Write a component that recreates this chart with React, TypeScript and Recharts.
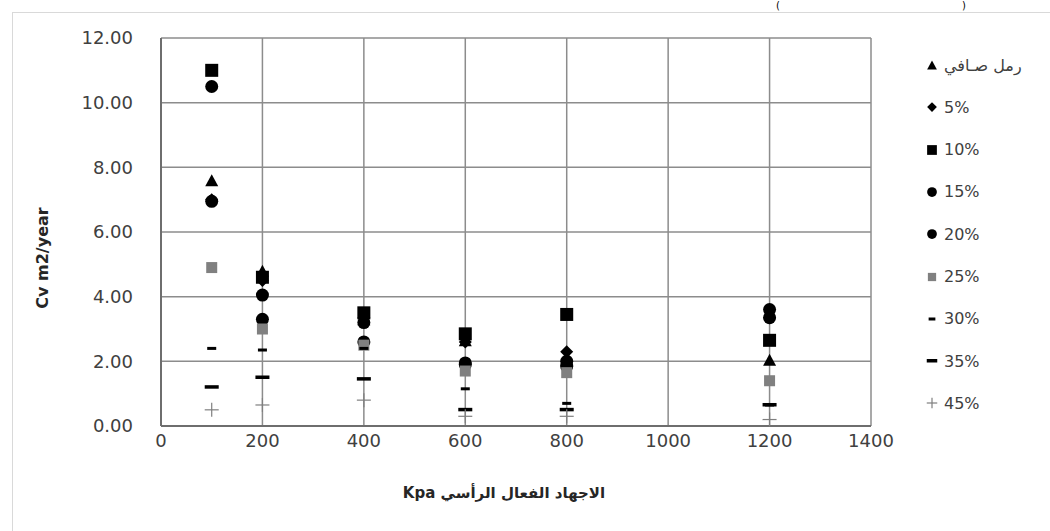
import React from "react";
import { ScatterChart, Scatter, XAxis, YAxis, CartesianGrid } from "recharts";

// Effective vertical stress (kPa)
const pressures = [100, 200, 400, 600, 800, 1200];

// Cv (m2/year) per fines content
const cleanSand = [7.6, 4.8, 3.3, 2.65, 2.05, 2.05];
const fines5 = [7.0, 4.5, 3.35, 2.6, 2.3, 3.35];
const fines10 = [11.0, 4.6, 3.5, 2.85, 3.45, 2.65];
const fines15 = [10.5, 4.05, 3.2, 1.95, 2.0, 3.6];
const fines20 = [6.95, 3.3, 2.6, 1.9, 1.85, 3.35];
const fines25 = [4.9, 3.0, 2.5, 1.7, 1.65, 1.4];
const fines30 = [2.4, 2.35, 2.4, 1.15, 0.7, 0.65];
const fines35 = [1.2, 1.5, 1.45, 0.5, 0.5, 0.65];
const fines45 = [0.5, 0.65, 0.8, 0.3, 0.3, 0.2];

const xTicks = [0, 200, 400, 600, 800, 1000, 1200, 1400];
const yTicks = [0, 2, 4, 6, 8, 10, 12];

type Kind = "triangle" | "diamond" | "square" | "circle" | "graySquare" | "shortDash" | "longDash" | "plus";

const series: { name: string; values: number[]; kind: Kind }[] = [
  { name: "رمل صـافي", values: cleanSand, kind: "triangle" },
  { name: "5%", values: fines5, kind: "diamond" },
  { name: "10%", values: fines10, kind: "square" },
  { name: "15%", values: fines15, kind: "circle" },
  { name: "20%", values: fines20, kind: "circle" },
  { name: "25%", values: fines25, kind: "graySquare" },
  { name: "30%", values: fines30, kind: "shortDash" },
  { name: "35%", values: fines35, kind: "longDash" },
  { name: "45%", values: fines45, kind: "plus" },
];

const toPoints = (values: number[]) => values.map((v, i) => ({ x: pressures[i], y: v }));

function Marker({ cx, cy, kind, s = 1 }: { cx: number; cy: number; kind: Kind; s?: number }) {
  switch (kind) {
    case "triangle": {
      const w = 6.5 * s, h = 6 * s;
      return <polygon points={`${cx},${cy - h} ${cx + w},${cy + h} ${cx - w},${cy + h}`} fill="#000" />;
    }
    case "diamond": {
      const r = 6.5 * s;
      return <polygon points={`${cx},${cy - r} ${cx + r},${cy} ${cx},${cy + r} ${cx - r},${cy}`} fill="#000" />;
    }
    case "square": {
      const r = 6.5 * s;
      return <rect x={cx - r} y={cy - r} width={2 * r} height={2 * r} fill="#000" />;
    }
    case "circle":
      return <circle cx={cx} cy={cy} r={6.5 * s} fill="#000" />;
    case "graySquare": {
      const r = 5.5 * s;
      return <rect x={cx - r} y={cy - r} width={2 * r} height={2 * r} fill="#808080" />;
    }
    case "shortDash":
      return <rect x={cx - 4.5 * s} y={cy - 1.5} width={9 * s} height={3} fill="#000" />;
    case "longDash":
      return <rect x={cx - 7 * s} y={cy - 2} width={14 * s} height={3.5} fill="#000" />;
    case "plus": {
      const r = 7 * s;
      return (
        <g stroke="#7f7f7f" strokeWidth={1.2}>
          <line x1={cx - r} y1={cy} x2={cx + r} y2={cy} />
          <line x1={cx} y1={cy - r} x2={cx} y2={cy + r} />
        </g>
      );
    }
  }
  return null;
}

function SeriesLegend() {
  return (
    <div style={{ position: "absolute", left: 924, top: 53, width: 126, height: 400 }}>
      {series.map((s, i) => (
        <div
          key={s.name}
          style={{
            position: "absolute",
            left: 0,
            top: i * 42.3,
            height: 24,
            display: "flex",
            alignItems: "center",
            whiteSpace: "nowrap",
          }}
        >
          <svg width={16} height={16} style={{ marginRight: 4 }}>
            <Marker cx={8} cy={8} kind={s.kind} s={0.75} />
          </svg>
          <span style={{ fontFamily: "DejaVu Sans", fontSize: 16, color: "#404040" }}>{s.name}</span>
        </div>
      ))}
    </div>
  );
}

export default function App() {
  return (
    <div style={{ position: "absolute", left: 0, top: 0, width: 1050, height: 531, background: "#fff", overflow: "hidden" }}>
      <div
        style={{
          position: "absolute",
          left: 12,
          top: 12,
          width: 1040,
          height: 530,
          border: "1px solid #d9d9d9",
          boxSizing: "border-box",
        }}
      />
      <div style={{ position: "absolute", left: 776, top: 0, fontFamily: "DejaVu Sans", fontSize: 10, lineHeight: "11px", color: "#000" }}>(</div>
      <div style={{ position: "absolute", left: 962, top: 0, fontFamily: "DejaVu Sans", fontSize: 10, lineHeight: "11px", color: "#000" }}>)</div>
      <ScatterChart
        width={1050}
        height={531}
        margin={{ top: 38, right: 179, bottom: 75, left: 101 }}
        style={{ position: "absolute", left: 0, top: 0 }}
      >
        <CartesianGrid stroke="#8c8c8c" strokeWidth={1.5} />
        <XAxis
          type="number"
          dataKey="x"
          domain={[0, 1400]}
          ticks={xTicks}
          height={30}
          tickLine={false}
          axisLine={{ stroke: "#6e6e6e", strokeWidth: 2 }}
          tick={{ fontFamily: "DejaVu Sans", fontSize: 18, fill: "#404040" }}
          tickMargin={2}
          interval={0}
        />
        <YAxis
          type="number"
          dataKey="y"
          domain={[0, 12]}
          ticks={yTicks}
          width={60}
          tickLine={false}
          axisLine={{ stroke: "#6e6e6e", strokeWidth: 2 }}
          tick={{ fontFamily: "DejaVu Sans", fontSize: 18, fill: "#404040" }}
          tickFormatter={(v: number) => v.toFixed(2)}
          tickMargin={22}
          interval={0}
        />
        {series.map((s) => (
          <Scatter
            key={s.name}
            name={s.name}
            data={toPoints(s.values)}
            isAnimationActive={false}
            shape={(p: any) => <Marker cx={p.cx} cy={p.cy} kind={s.kind} />}
          />
        ))}
      </ScatterChart>
      <SeriesLegend />
      <svg width={1050} height={531} style={{ position: "absolute", left: 0, top: 0, pointerEvents: "none" }}>
        <text
          x={0}
          y={0}
          transform="translate(48,258) rotate(-90)"
          textAnchor="middle"
          fontFamily="DejaVu Sans"
          fontWeight="bold"
          fontSize={16}
          fill="#262626"
        >
          Cv m2/year
        </text>
        <text
          x={504}
          y={498}
          textAnchor="middle"
          fontFamily="DejaVu Sans"
          fontWeight="bold"
          fontSize={15}
          fill="#262626"
          direction="rtl"
        >
          الاجهاد الفعال الرأسي Kpa
        </text>
      </svg>
    </div>
  );
}
